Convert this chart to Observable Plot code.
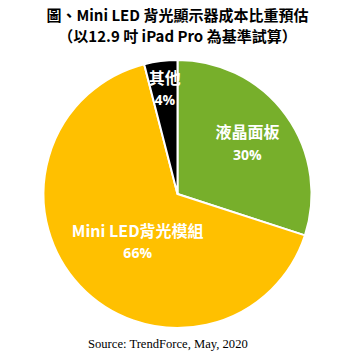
<!DOCTYPE html>
<html><head><meta charset="utf-8">
<script src="https://cdn.jsdelivr.net/npm/d3@7"></script>
<script src="https://cdn.jsdelivr.net/npm/@observablehq/plot@0.6"></script>
<style>
body{margin:0;background:#fff;width:355px;height:357px;overflow:hidden;font-family:"Noto Sans CJK TC","Noto Sans",sans-serif;position:relative}
#title{box-sizing:border-box;text-align:center;font-weight:bold;font-size:15px;line-height:21px;padding-top:4px;height:50px;color:#000}
#caption{font-family:"Liberation Serif",serif;font-size:12.6px;position:absolute;left:88px;top:337px;color:#000}
#chart svg{display:block}
</style></head><body>
<div id="title"><div>圖、Mini LED 背光顯示器成本比重預估</div><div>（以12.9 吋 iPad Pro 為基準試算）</div></div>
<div id="chart"></div>
<div id="caption">Source: TrendForce, May, 2020</div>
<script>
const categories = ["液晶面板", "Mini LED背光模組", "其他"];
const values = [30, 66, 4];
const palette = ["#77AF2B", "#FFC000", "#000000"];

// label layout (radius fraction and angle nudge in degrees) – styling, not data
const labelRadius = [0.64, 0.47, 0.79];
const labelNudge = [0, -7, 0];

const color = d3.scaleOrdinal(categories, palette);
const total = d3.sum(values);
let acc = 0;
const slices = categories.map((c, i) => {
  const a0 = acc / total * 2 * Math.PI;
  acc += values[i];
  const a1 = acc / total * 2 * Math.PI;
  const mid = (a0 + a1) / 2 + labelNudge[i] * Math.PI / 180;
  return {category: c, value: values[i], a0, a1,
    lx: labelRadius[i] * Math.sin(mid), ly: labelRadius[i] * Math.cos(mid),
    pct: values[i] + "%"};
});

function pieMark(index, scales) {
  const {x, y} = scales;
  const cx = x(0), cy = y(0), r = x(1) - x(0);
  const arc = d3.arc().innerRadius(0).outerRadius(r);
  const g = d3.create("svg:g").attr("transform", `translate(${cx},${cy})`);
  g.selectAll("path").data(slices).join("path")
    .attr("d", d => arc({startAngle: d.a0, endAngle: d.a1}))
    .attr("fill", d => color(d.category))
    .attr("stroke", "#fff").attr("stroke-width", 2).attr("stroke-linejoin", "round");
  return g.node();
}

const chart = Plot.plot({
  width: 355, height: 284,
  marginLeft: 43.5, marginRight: 43.5, marginTop: 10, marginBottom: 6,
  x: {domain: [-1, 1], axis: null},
  y: {domain: [-1, 1], axis: null},
  style: {background: "#fff", overflow: "visible"},
  marks: [
    pieMark,
    Plot.text(slices, {x: "lx", y: "ly", text: "category", dy: -11, fill: "white",
      fontSize: 16, fontWeight: "bold", fontFamily: "'Noto Sans CJK TC', sans-serif"}),
    Plot.text(slices, {x: "lx", y: "ly", text: "pct", dy: 11, fill: "white",
      fontSize: 14, fontWeight: "bold", fontFamily: "'Open Sans', sans-serif"})
  ]
});
document.getElementById("chart").append(chart);
</script></body></html>
